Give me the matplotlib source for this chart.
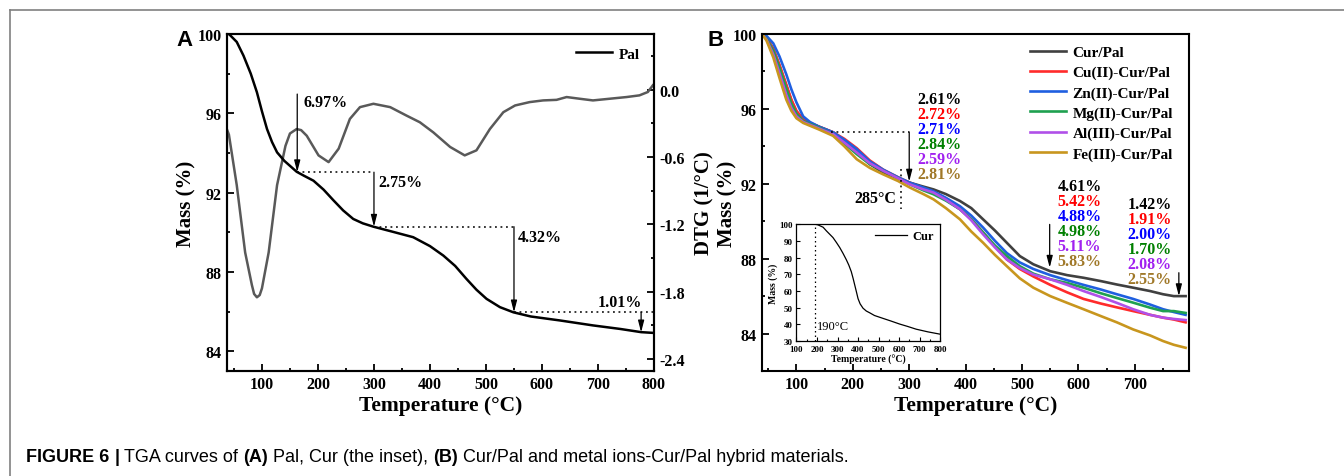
import matplotlib
matplotlib.use('Agg')
from matplotlib import pyplot as plt
from matplotlib.lines import Line2D
from matplotlib.ticker import MultipleLocator

plt.rcParams['font.family'] = ['Liberation Serif', 'DejaVu Serif']
plt.rcParams['font.weight'] = 'bold'
plt.rcParams['axes.labelweight'] = 'bold'
plt.rcParams['axes.linewidth'] = 1.5

# ---- panel A: Pal mass and DTG ----
temp_pal = [38, 41, 55, 67, 80, 91, 100, 109, 118, 127, 140, 152, 162, 175, 192, 210, 228, 245,
            263, 280, 299, 330, 370, 400, 424, 445, 465, 483, 501, 525, 549, 580, 632, 691,
            740, 777, 800]
mass_pal = [100, 100, 99.6, 98.91, 98.0, 97.06, 96.1, 95.21, 94.55, 94.03, 93.6, 93.3, 93.05,
            92.85, 92.6, 92.15, 91.6, 91.1, 90.67, 90.45, 90.28, 90.05, 89.75, 89.3, 88.82,
            88.3, 87.65, 87.1, 86.64, 86.22, 85.96, 85.75, 85.55, 85.3, 85.12, 84.96, 84.92]

temp_dtg = [38, 41, 55, 70, 82, 86, 91, 96, 100, 112, 127, 142, 150, 162, 170, 180, 201, 219,
            237, 257, 275, 299, 329, 358, 382, 406, 436, 462, 483, 507, 531, 552, 578, 602,
            626, 644, 667, 691, 721, 751, 774, 789, 798]
dtg_pal = [-0.36, -0.40, -0.85, -1.45, -1.74, -1.82, -1.85, -1.83, -1.77, -1.45, -0.85, -0.50,
           -0.39, -0.35, -0.36, -0.41, -0.585, -0.645, -0.525, -0.26, -0.155, -0.125, -0.155,
           -0.23, -0.29, -0.38, -0.51, -0.585, -0.54, -0.35, -0.20, -0.14, -0.11, -0.095,
           -0.09, -0.065, -0.08, -0.095, -0.08, -0.065, -0.05, -0.02, 0.04]

# steps in panel A: arrow temperature, level before, level after, label
step_temp = [163, 300, 550, 777]
step_top = [96.97, 93.03, 90.28, 85.96]
step_bottom = [93.03, 90.28, 85.96, 84.95]
step_labels = ['6.97%', '2.75%', '4.32%', '1.01%']
dotted_from = [163, 300, 550]
dotted_to = [300, 550, 800]

# ---- panel B: Cur/Pal and metal ion hybrids ----
temp_b = [39, 47, 59, 70, 82, 91, 100, 112, 124, 140, 165, 185, 207, 230, 254, 280, 301, 325,
          343, 365, 390, 410, 431, 452, 473, 496, 520, 550, 580, 609, 640, 668, 697, 727, 750,
          769, 790]
cur_pal = [100, 99.8, 99.2, 98.3, 97.25, 96.45, 95.85, 95.45, 95.25, 95.05, 94.75, 94.3, 93.7,
           93.05, 92.6, 92.3, 92.06, 91.85, 91.7, 91.45, 91.08, 90.7, 90.1, 89.5, 88.85, 88.14,
           87.7, 87.33, 87.12, 86.98, 86.8, 86.62, 86.45, 86.27, 86.1, 86.0, 86.0]
cu_cur_pal = [100, 99.8, 99.2, 98.35, 97.3, 96.5, 95.9, 95.45, 95.25, 95.05, 94.75, 94.4, 93.9,
              93.25, 92.75, 92.35, 92.06, 91.75, 91.53, 91.15, 90.64, 90.1, 89.4, 88.65, 87.96,
              87.45, 87.05, 86.6, 86.2, 85.85, 85.6, 85.4, 85.2, 85.0, 84.85, 84.75, 84.6]
zn_cur_pal = [100, 99.9, 99.5, 98.8, 97.85, 97.05, 96.35, 95.6, 95.3, 95.05, 94.75, 94.35, 93.85,
              93.2, 92.75, 92.35, 92.06, 91.8, 91.6, 91.25, 90.8, 90.3, 89.66, 88.95, 88.3,
              87.8, 87.45, 87.12, 86.85, 86.6, 86.35, 86.1, 85.85, 85.55, 85.3, 85.15, 85.0]
mg_cur_pal = [100, 99.75, 99.1, 98.2, 97.1, 96.3, 95.75, 95.35, 95.2, 95.0, 94.65, 94.15, 93.58,
              93.05, 92.69, 92.3, 91.97, 91.65, 91.44, 91.1, 90.64, 90.1, 89.4, 88.7, 88.14,
              87.6, 87.2, 86.9, 86.7, 86.45, 86.15, 85.9, 85.65, 85.38, 85.2, 85.2, 85.1]
al_cur_pal = [100, 99.7, 98.9, 97.9, 96.75, 96.05, 95.6, 95.3, 95.15, 94.95, 94.65, 94.2, 93.67,
              93.1, 92.69, 92.3, 91.97, 91.7, 91.53, 91.15, 90.64, 90.05, 89.3, 88.6, 87.96,
              87.5, 87.15, 86.9, 86.6, 86.27, 85.95, 85.64, 85.3, 85.0, 84.85, 84.78, 84.72]
fe_cur_pal = [100, 99.65, 98.75, 97.65, 96.5, 95.9, 95.5, 95.25, 95.1, 94.9, 94.56, 94.0, 93.31,
              92.85, 92.5, 92.15, 91.8, 91.45, 91.17, 90.7, 90.1, 89.45, 88.85, 88.2, 87.6,
              86.95, 86.45, 86.0, 85.64, 85.3, 84.93, 84.6, 84.22, 83.9, 83.6, 83.4, 83.24]

names_b = ['Cur/Pal', 'Cu(II)-Cur/Pal', 'Zn(II)-Cur/Pal', 'Mg(II)-Cur/Pal',
           'Al(III)-Cur/Pal', 'Fe(III)-Cur/Pal']
series_b = [cur_pal, cu_cur_pal, zn_cur_pal, mg_cur_pal, al_cur_pal, fe_cur_pal]
line_colors = ['#404040', '#ff2b2b', '#1f5fe0', '#1fa050', '#b050e8', '#c8961e']
text_colors = ['#000000', '#ff0000', '#0000ff', '#008000', '#a020f0', '#a07828']

loss_1 = ['2.61%', '2.72%', '2.71%', '2.84%', '2.59%', '2.81%']
loss_2 = ['4.61%', '5.42%', '4.88%', '4.98%', '5.11%', '5.83%']
loss_3 = ['1.42%', '1.91%', '2.00%', '1.70%', '2.08%', '2.55%']

# ---- inset: Cur ----
temp_cur = [100, 190, 205, 230, 246, 262, 278, 295, 311, 327, 343, 355, 367, 376, 384, 392, 400,
            410, 424, 440, 457, 480, 521, 560, 602, 640, 683, 740, 800]
mass_cur = [100, 100, 99.6, 98.2, 96, 94, 92, 89, 86, 82.5, 78.7, 75.5, 71.6, 67.5, 63.5, 59.5,
            55.4, 52.3, 49.7, 48, 46.9, 45.3, 43.6, 42, 40.2, 38.8, 37.1, 35.5, 34.1]

W, H = 1344, 477
fig = plt.figure(figsize=(W / 100, H / 100), dpi=100)


def style_ticks(ax, right=False):
    ax.tick_params(which='both', direction='in', width=1.3, labelsize=11.5, pad=4,
                   top=False, right=right)
    ax.tick_params(which='major', length=5)
    ax.tick_params(which='minor', length=2.5)


# panel A
ax_a = fig.add_axes([227 / W, 1 - 372 / H, 427 / W, 337 / H])
ax_a.plot(temp_pal, mass_pal, color='black', lw=1.8, label='Pal')
ax_a.set_xlim(37.6, 800)
ax_a.set_ylim(83, 100)
ax_a.set_xticks(range(100, 801, 100))
ax_a.xaxis.set_minor_locator(MultipleLocator(50))
ax_a.set_yticks([84, 88, 92, 96, 100])
ax_a.yaxis.set_minor_locator(MultipleLocator(2))
style_ticks(ax_a)
ax_a.tick_params(axis='x', pad=3.5)
ax_a.set_xlabel('Temperature (°C)', fontsize=15.5)
ax_a.set_ylabel('Mass (%)', fontsize=15)
ax_a.xaxis.set_label_coords(0.5, -0.1)
ax_a.xaxis.label.set_va('center')
ax_a.yaxis.set_label_coords(-0.094, 0.5)
ax_a.yaxis.label.set_va('center')

ax_a2 = ax_a.twinx()
ax_a2.plot(temp_dtg, dtg_pal, color='#595959', lw=1.8)
ax_a2.set_ylim(-2.507, 0.497)
ax_a2.set_yticks([0.0, -0.6, -1.2, -1.8, -2.4])
ax_a2.set_yticklabels(['0.0', '-0.6', '-1.2', '-1.8', '-2.4'])
ax_a2.yaxis.set_minor_locator(MultipleLocator(0.3))
style_ticks(ax_a2, right=True)
ax_a2.tick_params(left=False, which='both')
ax_a2.set_ylabel('DTG (1/°C)', fontsize=15)
ax_a2.yaxis.set_label_coords(1.118, 0.5)
ax_a2.yaxis.label.set_va('center')

arrow_kw = dict(arrowstyle='-|>,head_width=0.18,head_length=0.7', color='black', lw=0.9,
                shrinkA=0, shrinkB=0, mutation_scale=10)
for x0, x1, y in zip(dotted_from, dotted_to, step_bottom[:3]):
    ax_a.plot([x0, x1], [y, y], color='black', lw=1.1, ls=(0, (1.2, 2.4)))
for t, y0, y1 in zip(step_temp, step_top, step_bottom):
    ax_a.annotate('', xy=(t, y1), xytext=(t, y0), arrowprops=arrow_kw)
ax_a.text(174, 96.55, step_labels[0], fontsize=11.5, va='center')
ax_a.text(308, 92.52, step_labels[1], fontsize=11.5, va='center')
ax_a.text(557, 89.75, step_labels[2], fontsize=11.5, va='center')
ax_a.text(739, 86.47, step_labels[3], fontsize=11.5, va='center', ha='center')

ax_a.legend(loc='upper right', bbox_to_anchor=(0.966, 0.962), frameon=False,
            fontsize=11, handlelength=2.4, handletextpad=0.4, borderpad=0,
            borderaxespad=0)
ax_a.set_zorder(ax_a2.get_zorder() + 1)
ax_a.patch.set_visible(False)
fig.text(184 / W, 1 - 40 / H, 'A', fontsize=16, fontweight='bold', ha='center', va='center',
         family='Liberation Sans')

# panel B
ax_b = fig.add_axes([762 / W, 1 - 372 / H, 427 / W, 337 / H])
for vals, name, c in zip(series_b, names_b, line_colors):
    ax_b.plot(temp_b, vals, color=c, lw=1.9, label=name)
ax_b.set_xlim(39, 796)
ax_b.set_ylim(82, 100)
ax_b.set_xticks(range(100, 701, 100))
ax_b.xaxis.set_minor_locator(MultipleLocator(50))
ax_b.set_yticks([84, 88, 92, 96, 100])
ax_b.yaxis.set_minor_locator(MultipleLocator(2))
style_ticks(ax_b)
ax_b.tick_params(axis='x', pad=3.5)
ax_b.set_xlabel('Temperature (°C)', fontsize=15.5)
ax_b.set_ylabel('Mass (%)', fontsize=15)
ax_b.xaxis.set_label_coords(0.5, -0.1)
ax_b.xaxis.label.set_va('center')
ax_b.yaxis.set_label_coords(-0.082, 0.5)
ax_b.yaxis.label.set_va('center')

ax_b.legend(loc='upper right', bbox_to_anchor=(0.9625, 0.966), frameon=False, fontsize=11,
            handlelength=2.4, handletextpad=0.4, labelspacing=0.42, borderpad=0,
            borderaxespad=0)

ax_b.plot([161, 300], [94.77, 94.77], color='black', lw=1.1, ls=(0, (1.2, 2.4)))
ax_b.annotate('', xy=(300, 92.12), xytext=(300, 94.77), arrowprops=arrow_kw)
ax_b.plot([286, 286], [92.78, 90.64], color='black', lw=1.1, ls=(0, (1.2, 2.4)))
ax_b.text(277, 91.26, '285°C', fontsize=11.5, ha='right', va='center')
ax_b.annotate('', xy=(549, 87.52), xytext=(549, 89.83), arrowprops=arrow_kw)
ax_b.annotate('', xy=(778, 86.0), xytext=(778, 87.25), arrowprops=arrow_kw)

for labels, x, y_top in [(loss_1, 354, 96.52), (loss_2, 602, 91.89), (loss_3, 726, 90.94)]:
    for i, (lab, c) in enumerate(zip(labels, text_colors)):
        ax_b.text(x, y_top - 0.8 * i, lab, color=c, fontsize=11.5, ha='center', va='center')

fig.text(716 / W, 1 - 41 / H, 'B', fontsize=16, fontweight='bold', ha='center', va='center',
         family='Liberation Sans')

# inset with Cur
ax_in = ax_b.inset_axes([100, 83.6, 255, 6.24], transform=ax_b.transData)
ax_in.plot(temp_cur, mass_cur, color='black', lw=0.9, label='Cur')
ax_in.axvline(190, color='black', lw=0.9, ls=(0, (1.2, 2.4)))
ax_in.set_xlim(100, 800)
ax_in.set_ylim(30, 100)
ax_in.set_xticks(range(100, 801, 100))
ax_in.set_yticks(range(30, 101, 10))
ax_in.xaxis.set_minor_locator(MultipleLocator(50))
ax_in.tick_params(which='both', direction='in', labelsize=6.5, width=0.8)
ax_in.tick_params(axis='x', pad=2.5)
ax_in.tick_params(axis='y', pad=2.5)
ax_in.tick_params(which='major', length=3)
ax_in.tick_params(which='minor', length=1.5)
for s in ax_in.spines.values():
    s.set_linewidth(0.9)
ax_in.set_xlabel('Temperature (°C)', fontsize=7, labelpad=1)
ax_in.set_ylabel('Mass (%)', fontsize=7, labelpad=1)
ax_in.text(200, 39, '190°C', fontsize=9, fontweight='normal', va='center')
ax_in.legend(loc='upper right', frameon=False, fontsize=9, handlelength=2.6,
             handletextpad=0.4, borderpad=0.3, borderaxespad=0.2)

# frame lines of the page and caption
fig.add_artist(Line2D([9.5 / W, 1], [1 - 10.7 / H] * 2, transform=fig.transFigure,
                      color='#808080', lw=1.2))
fig.add_artist(Line2D([9.5 / W] * 2, [0, 1 - 10.7 / H], transform=fig.transFigure,
                      color='#808080', lw=1.2))

caption = [('FIGURE 6', 'bold'), ('|', 'bold'), ('TGA curves of', 'normal'), ('(A)', 'bold'),
           ('Pal, Cur (the inset),', 'normal'), ('(B)', 'bold'),
           ('Cur/Pal and metal ions-Cur/Pal hybrid materials.', 'normal')]
anchor = fig.text(26 / W, 1 - 458 / H, caption[0][0], fontsize=13, fontweight=caption[0][1],
                  family='Liberation Sans', va='center', ha='left')
for part, weight in caption[1:]:
    anchor = fig.add_artist(matplotlib.text.Annotation(
        part, xy=(1, 0), xycoords=anchor, xytext=(3.6, 0), textcoords='offset points',
        fontsize=13, fontweight=weight, family='Liberation Sans', va='bottom', ha='left',
        annotation_clip=False))

fig.savefig('out.png', dpi=100)
